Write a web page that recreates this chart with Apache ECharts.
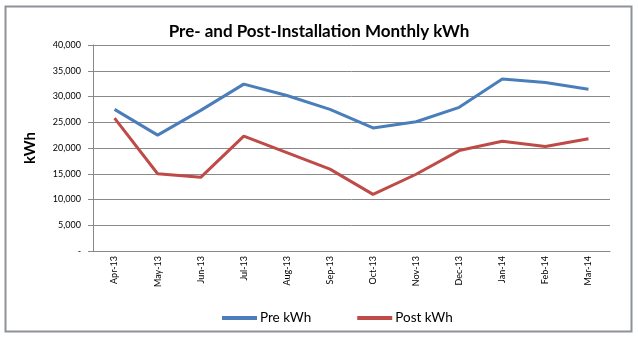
<!DOCTYPE html>
<html>
<head>
<meta charset="utf-8">
<script src="https://cdn.jsdelivr.net/npm/echarts@6/dist/echarts.min.js"></script>
<style>html,body{margin:0;padding:0;background:#fff}#c{width:638px;height:337px}</style>
</head>
<body>
<div id="c"></div>
<script>
var months = ['Apr-13','May-13','Jun-13','Jul-13','Aug-13','Sep-13','Oct-13','Nov-13','Dec-13','Jan-14','Feb-14','Mar-14'];
var preKWh = [27500, 22500, 27300, 32400, 30200, 27500, 23900, 25100, 27900, 33400, 32700, 31400];
var postKWh = [25800, 15000, 14300, 22300, 19100, 15900, 11000, 14900, 19500, 21300, 20300, 21800];
var chart = echarts.init(document.getElementById('c'));
chart.setOption({
  animation: false,
  backgroundColor: '#fff',
  textStyle: {fontFamily: 'Lato, "Open Sans", sans-serif'},
  graphic: [{type: 'rect', shape: {x: 5.5, y: 6.5, width: 626, height: 325}, style: {fill: 'none', stroke: '#8e9299', lineWidth: 2}, silent: true}],
  title: {text: 'Pre- and Post-Installation Monthly kWh', left: 'center', top: 18,
    textStyle: {fontSize: 17, fontWeight: 'bold', color: '#000', fontFamily: 'Lato, "Open Sans", sans-serif'}},
  grid: {left: 93, right: 28, top: 45, bottom: 86},
  legend: {bottom: 12, left: 222, padding: 0, itemWidth: 35, itemHeight: 4, itemGap: 46, icon: 'rect',
    textStyle: {fontSize: 13.5, color: '#000', padding: [0, 0, 0, -2]},
    data: ['Pre kWh', 'Post kWh']},
  xAxis: {type: 'category', data: months, boundaryGap: true,
    axisLine: {lineStyle: {color: '#888', width: 1}},
    axisTick: {show: false},
    axisLabel: {rotate: 90, fontSize: 9, color: '#000', margin: 5, interval: 0}},
  yAxis: {type: 'value', min: 0, max: 40000, interval: 5000,
    name: 'kWh', nameLocation: 'middle', nameRotate: 90, nameGap: 55,
    nameTextStyle: {fontSize: 15, fontWeight: 'bold', color: '#000'},
    axisLine: {show: true, lineStyle: {color: '#888'}},
    axisTick: {show: true, length: 5, lineStyle: {color: '#888'}},
    axisLabel: {fontSize: 9, color: '#000', margin: 12,
      formatter: function (v) { return v === 0 ? '-' : v.toString().replace(/\B(?=(\d{3})+(?!\d))/g, ','); }},
    splitLine: {lineStyle: {color: '#8a8a8a', width: 1}}},
  series: [
    {name: 'Pre kWh', type: 'line', data: preKWh, symbol: 'none', lineStyle: {width: 3, color: '#4A7EBB'}, itemStyle: {color: '#4A7EBB'}},
    {name: 'Post kWh', type: 'line', data: postKWh, symbol: 'none', lineStyle: {width: 3, color: '#BE4B48'}, itemStyle: {color: '#BE4B48'}}
  ]
});
</script>
</body>
</html>
